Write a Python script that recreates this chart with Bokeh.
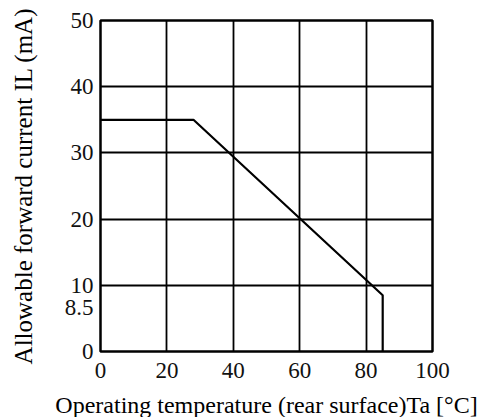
from bokeh.plotting import figure
from bokeh.models import FixedTicker, Range1d
from bokeh.embed import file_html
from bokeh.resources import INLINE

# data
temps = [0, 28, 85, 85]
currents = [35, 35, 8.5, 0]
x_ticks = [0, 20, 40, 60, 80, 100]
y_grid_ticks = [0, 10, 20, 30, 40, 50]
y_ticks = [0, 8.5, 10, 20, 30, 40, 50]
x_label = "Operating temperature (rear surface)Ta [°C]"
y_label = "Allowable forward current IL (mA)"

FONT = "Liberation Serif"

p = figure(frame_width=332, frame_height=331, output_backend="svg", toolbar_location=None,
           x_range=Range1d(0, 100), y_range=Range1d(0, 50),
           min_border_left=100, min_border_right=71, min_border_top=20, min_border_bottom=66)
p.background_fill_color = "white"
p.border_fill_color = "white"
p.outline_line_color = "black"
p.outline_line_width = 2.5

p.line(temps, currents, line_color="black", line_width=2.2)

for ax, ticks in ((p.xaxis[0], x_ticks), (p.yaxis[0], y_ticks)):
    ax.ticker = FixedTicker(ticks=ticks)
    ax.axis_line_color = None
    ax.major_tick_line_color = None
    ax.minor_tick_line_color = None
    ax.major_tick_out = 0
    ax.major_tick_in = 0
    ax.major_label_text_font = FONT
    ax.major_label_text_font_size = "23px"
    ax.major_label_text_color = "#111111"
    ax.axis_label_text_font = FONT
    ax.axis_label_text_font_style = "normal"
    ax.axis_label_text_color = "black"

# the 8.5 label sits just under the "10" label (empty first line pushes it down)
p.yaxis.major_label_overrides = {8.5: "\n8.5"}
p.yaxis.major_label_text_line_height = 1.0

p.xaxis.axis_label = x_label
p.yaxis.axis_label = y_label
p.xaxis.axis_label_text_font_size = "24px"
p.yaxis.axis_label_text_font_size = "25px"
p.xaxis.major_label_standoff = 11
p.yaxis.major_label_standoff = 7
p.xaxis.axis_label_standoff = 11
p.yaxis.axis_label_standoff = 25

p.xgrid.ticker = FixedTicker(ticks=x_ticks)
p.ygrid.ticker = FixedTicker(ticks=y_grid_ticks)
for g in (p.xgrid[0], p.ygrid[0]):
    g.grid_line_color = "black"
    g.grid_line_width = 1.8
    g.grid_line_alpha = 1.0

open("out.html", "w").write(file_html(p, INLINE))
